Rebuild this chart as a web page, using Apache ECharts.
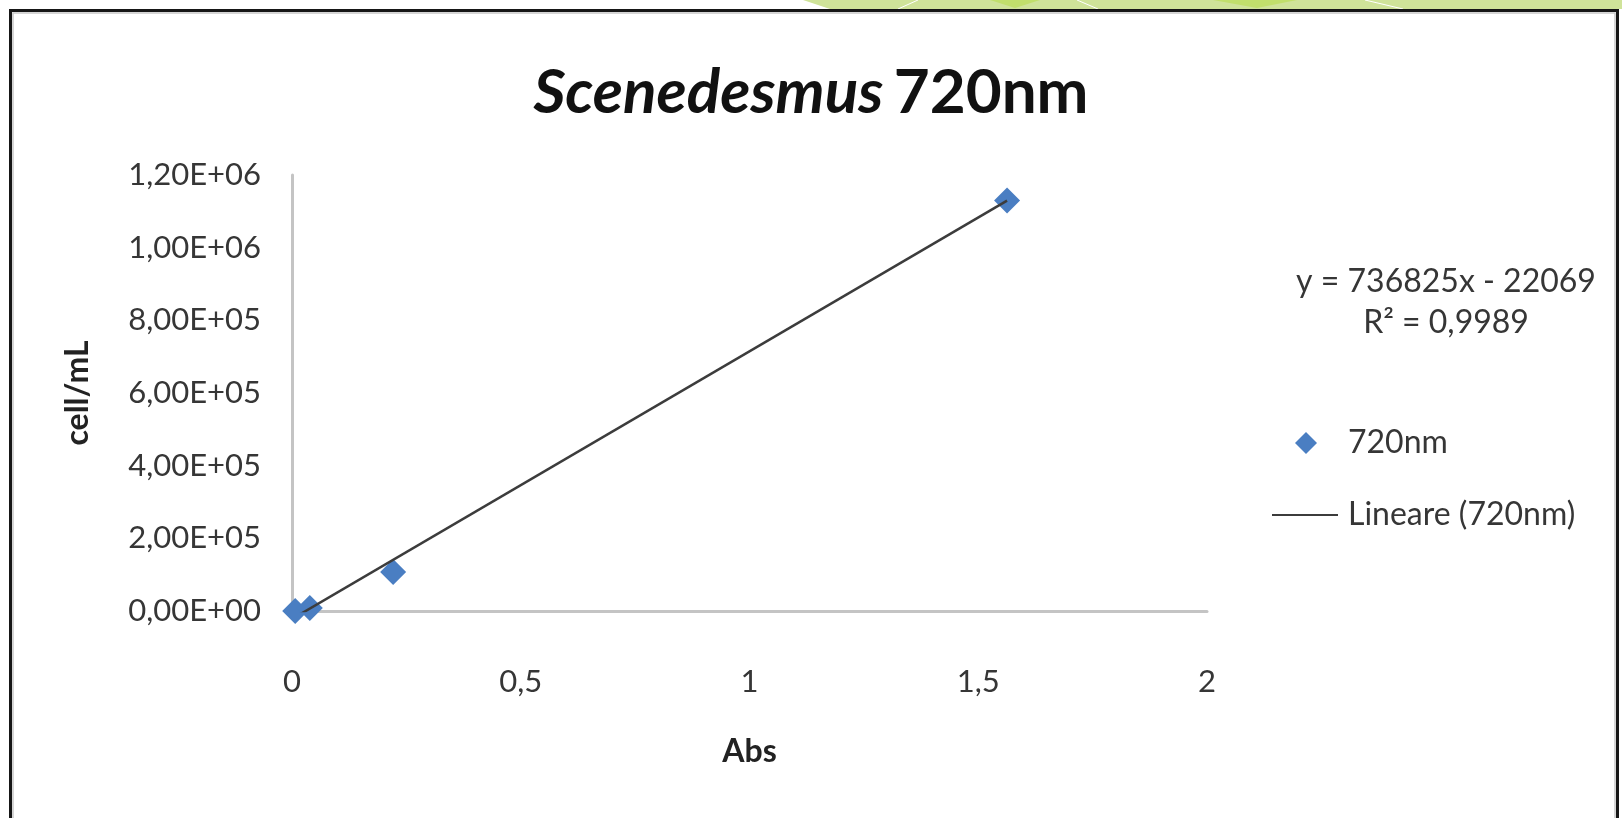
<!DOCTYPE html>
<html>
<head>
<meta charset="utf-8">
<title>Scenedesmus 720nm</title>
<script src="https://cdn.jsdelivr.net/npm/echarts@6/dist/echarts.min.js"></script>
<style>
  html, body { margin: 0; padding: 0; background: #ffffff; }
  #chart { width: 1622px; height: 818px; }
</style>
</head>
<body>
<div id="chart"></div>
<script>
// Calibration points: absorbance at 720 nm vs cell density
const absValues = [0.007, 0.039, 0.221, 1.563];
const cellValues = [0, 8000, 107000, 1130000];

// Linear trend line reported on the chart
const trendSlope = 736825;
const trendIntercept = -22069;
const trendEquation = 'y = 736825x - 22069';
const trendR2 = 'R² = 0,9989';

// Axis tick labels
const xTickLabels = ['0', '0,5', '1', '1,5', '2'];
const yTickLabels = ['0,00E+00', '2,00E+05', '4,00E+05', '6,00E+05', '8,00E+05', '1,00E+06', '1,20E+06'];

const seriesName = '720nm';
const trendName = 'Lineare (720nm)';

const FONT = 'Lato, "Open Sans", sans-serif';
const TEXT = '#363636';

const xMin = Math.min(...absValues);
const xMax = Math.max(...absValues);
const trendPoints = [xMin, xMax].map(x => [x, trendSlope * x + trendIntercept]);

const chart = echarts.init(document.getElementById('chart'), null, { renderer: 'canvas' });

chart.setOption({
  backgroundColor: '#ffffff',
  animation: false,
  textStyle: { fontFamily: FONT },
  title: {
    text: '{i|Scenedesmus} {n|720nm}',
    left: 'center',
    top: 60,
    padding: 0,
    textStyle: {
      rich: {
        i: { fontFamily: FONT, fontSize: 62, fontStyle: 'italic', color: '#111', lineHeight: 66 },
        n: { fontFamily: FONT, fontSize: 62, color: '#111', lineHeight: 66, padding: [0, 0, 0, 6] }
      }
    }
  },
  grid: { left: 292, right: 415, top: 175, bottom: 207 },
  xAxis: {
    type: 'value',
    min: 0,
    max: 2,
    interval: 0.5,
    name: 'Abs',
    nameLocation: 'middle',
    nameGap: 125,
    nameTextStyle: { fontFamily: FONT, fontSize: 32, fontWeight: 'bold', color: '#222' },
    axisLine: { show: true, onZero: false, lineStyle: { color: '#c4c4c4', width: 3 } },
    axisTick: { show: false },
    splitLine: { show: false },
    axisLabel: {
      margin: 55,
      fontFamily: FONT,
      fontSize: 31,
      color: TEXT,
      formatter: v => xTickLabels[Math.round(v / 0.5)]
    }
  },
  yAxis: {
    type: 'value',
    min: 0,
    max: 1200000,
    interval: 200000,
    name: 'cell/mL',
    nameLocation: 'middle',
    nameRotate: 90,
    nameGap: 198,
    nameTextStyle: { fontFamily: FONT, fontSize: 32, fontWeight: 'bold', color: '#222' },
    axisLine: { show: true, onZero: false, lineStyle: { color: '#c4c4c4', width: 3 } },
    axisTick: { show: false },
    splitLine: { show: false },
    axisLabel: {
      margin: 31,
      fontFamily: FONT,
      fontSize: 31,
      color: TEXT,
      formatter: v => yTickLabels[Math.round(v / 200000)]
    }
  },
  legend: [
    {
      data: [{ name: seriesName, icon: 'diamond' }],
      left: 1290,
      top: 422,
      itemWidth: 22,
      itemHeight: 22,
      textStyle: { fontFamily: FONT, fontSize: 32, lineHeight: 32, color: TEXT, padding: [0, 0, 0, 26] }
    },
    {
      data: [{ name: trendName, icon: 'rect' }],
      left: 1267,
      top: 494,
      itemWidth: 66,
      itemHeight: 2,
      textStyle: { fontFamily: FONT, fontSize: 32, lineHeight: 32, color: TEXT, padding: [0, 0, 0, 5] }
    }
  ],
  series: [
    {
      name: seriesName,
      type: 'scatter',
      data: absValues.map((x, i) => [x, cellValues[i]]),
      symbol: 'diamond',
      symbolSize: 26,
      itemStyle: { color: '#4a7ec2', opacity: 1 },
      z: 2
    },
    {
      name: trendName,
      type: 'line',
      data: trendPoints,
      showSymbol: false,
      symbol: 'none',
      clip: true,
      lineStyle: { color: '#3c3c3c', width: 2.5 },
      itemStyle: { color: '#3c3c3c' },
      z: 3
    }
  ],
  graphic: [
    // decorative green band across the top edge
    { type: 'polygon', shape: { points: [[803, 0], [1622, 0], [1622, 9], [830, 9]] }, style: { fill: '#cfe399' }, silent: true },
    { type: 'polygon', shape: { points: [[990, 0], [1040, 0], [1015, 8]] }, style: { fill: '#c1df6c' }, silent: true },
    { type: 'polygon', shape: { points: [[1213, 0], [1297, 0], [1257, 8]] }, style: { fill: '#c1df6c' }, silent: true },
    { type: 'line', shape: { x1: 918, y1: 0, x2: 898, y2: 9 }, style: { stroke: '#ffffff', lineWidth: 1 }, silent: true },
    { type: 'line', shape: { x1: 1077, y1: 0, x2: 1098, y2: 9 }, style: { stroke: '#ffffff', lineWidth: 1 }, silent: true },
    { type: 'line', shape: { x1: 1365, y1: 0, x2: 1403, y2: 9 }, style: { stroke: '#ffffff', lineWidth: 1 }, silent: true },
    // chart frame
    { type: 'rect', shape: { x: 10.5, y: 10.5, width: 1607, height: 900 }, style: { fill: 'none', stroke: '#161616', lineWidth: 3 }, silent: true },
    { type: 'rect', shape: { x: 13, y: 13, width: 1602, height: 900 }, style: { fill: 'none', stroke: '#c8c8c8', lineWidth: 1.5 }, silent: true },
    // trend line equation and R²
    {
      type: 'text', x: 1446, y: 282,
      style: { text: trendEquation, font: '32px ' + FONT, fill: TEXT, textAlign: 'center', textVerticalAlign: 'middle' }, silent: true
    },
    {
      type: 'text', x: 1446, y: 323,
      style: { text: trendR2, font: '32px ' + FONT, fill: TEXT, textAlign: 'center', textVerticalAlign: 'middle' }, silent: true
    }
  ]
});
</script>
</body>
</html>
